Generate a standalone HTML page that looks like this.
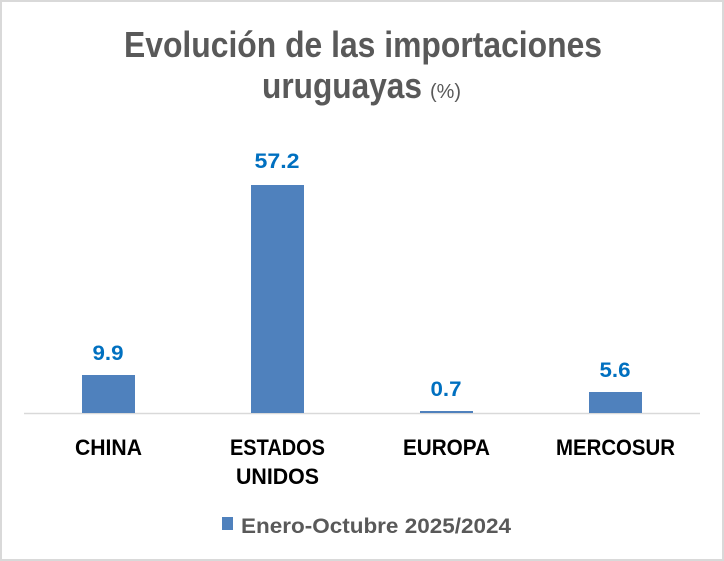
<!DOCTYPE html>
<html><head><meta charset="utf-8"><style>
html,body{margin:0;padding:0;background:#fff;}
svg{display:block;font-family:"Liberation Sans",sans-serif;}
</style></head><body>
<svg width="724" height="561" viewBox="0 0 724 561" xmlns="http://www.w3.org/2000/svg">
<rect x="1" y="1" width="722" height="559" fill="#fff" stroke="#d9d9d9" stroke-width="2"/>
<text x="124" y="57" font-size="36" font-weight="bold" fill="#595959" textLength="478" lengthAdjust="spacingAndGlyphs">Evolución de las importaciones</text>
<text x="262" y="98" font-size="36" font-weight="bold" fill="#595959" textLength="160" lengthAdjust="spacingAndGlyphs">uruguayas</text>
<text x="430" y="98" font-size="20" fill="#595959" textLength="31" lengthAdjust="spacingAndGlyphs">(%)</text>
<line x1="24" y1="413.5" x2="700" y2="413.5" stroke="#d9d9d9" stroke-width="1.5"/>
<g fill="#4f81bd">
<rect x="82" y="375" width="53" height="38"/>
<rect x="251" y="185" width="53" height="228"/>
<rect x="420" y="411" width="53" height="2"/>
<rect x="589" y="392" width="53" height="21"/>
</g>
<g font-size="21" font-weight="bold" fill="#0070c0" text-anchor="middle">
<text x="108" y="360" textLength="31" lengthAdjust="spacingAndGlyphs">9.9</text>
<text x="277" y="168" textLength="45" lengthAdjust="spacingAndGlyphs">57.2</text>
<text x="446" y="396" textLength="31" lengthAdjust="spacingAndGlyphs">0.7</text>
<text x="615" y="377" textLength="31" lengthAdjust="spacingAndGlyphs">5.6</text>
</g>
<g font-size="22" font-weight="bold" fill="#000">
<text x="75" y="455" textLength="67" lengthAdjust="spacingAndGlyphs">CHINA</text>
<text x="230" y="455" textLength="95" lengthAdjust="spacingAndGlyphs">ESTADOS</text>
<text x="236" y="484" textLength="83" lengthAdjust="spacingAndGlyphs">UNIDOS</text>
<text x="403" y="455" textLength="87" lengthAdjust="spacingAndGlyphs">EUROPA</text>
<text x="556" y="455" textLength="119" lengthAdjust="spacingAndGlyphs">MERCOSUR</text>
</g>
<rect x="222" y="517" width="11" height="13" fill="#4f81bd"/>
<text x="241" y="533" font-size="21" font-weight="bold" fill="#595959" textLength="270" lengthAdjust="spacingAndGlyphs">Enero-Octubre 2025/2024</text>
</svg>
</body></html>
